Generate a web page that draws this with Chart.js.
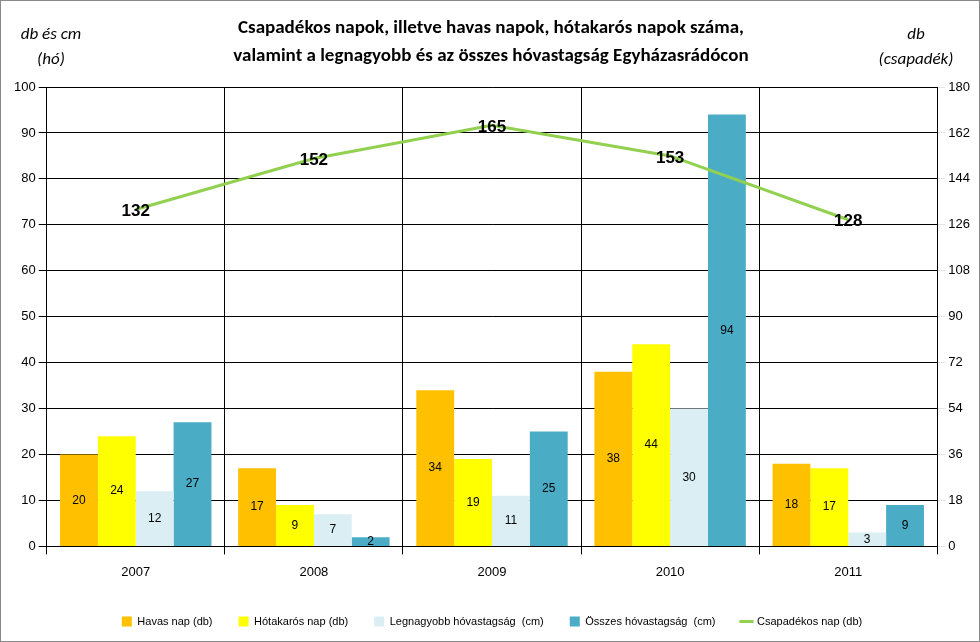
<!DOCTYPE html>
<html><head><meta charset="utf-8">
<script src="https://cdn.jsdelivr.net/npm/chart.js@4"></script>
<style>
body{margin:0;background:#fff;font-family:Calibri,"Liberation Sans",Arial,sans-serif;}
#wrap{position:absolute;left:0;top:0;width:978px;height:640px;border:1px solid #888;}
.t{position:absolute;font-style:italic;font-size:17px;text-align:center;color:#000;}
#title{position:absolute;left:140px;width:700px;top:12px;text-align:center;font-weight:bold;font-size:19px;line-height:28px;}
canvas{position:absolute;left:0;top:0;}
</style></head><body>
<div id="wrap">
<canvas id="c" width="978" height="640"></canvas>
<div id="title">Csapadékos napok, illetve havas napok, hótakarós napok száma,<br>valamint a legnagyobb és az összes hóvastagság Egyházasrádócon</div>
<div class="t" style="left:10px;top:20px;width:80px;line-height:25px">db és cm<br>(hó)</div>
<div class="t" style="left:870px;top:20px;width:90px;line-height:25px">db<br>(csapadék)</div>
</div>
<script>
const years = ['2007','2008','2009','2010','2011'];
const havas = [20, 17, 34, 38, 18];
const hotakaros = [24, 9, 19, 44, 17];
const legnagyobb = [12, 7, 11, 30, 3];
const osszes = [27, 2, 25, 94, 9];
const csapadek = [132, 152, 165, 153, 128];

const labelsPlugin = {
    id: 'labels',
    afterDatasetsDraw(chart) {
        const ctx = chart.ctx;
        ctx.save();
        ctx.textAlign = 'center';
        ctx.textBaseline = 'middle';
        chart.data.datasets.forEach((ds, i) => {
            const meta = chart.getDatasetMeta(i);
            meta.data.forEach((el, j) => {
                ctx.fillStyle = '#000';
                if (ds.type === 'line') {
                    ctx.font = 'bold 17px "Liberation Sans", Arial';
                    ctx.fillText(ds.data[j], el.x, el.y + 2);
                } else {
                    ctx.font = '12px "Liberation Sans", Arial';
                    ctx.fillText(ds.data[j], el.x, (el.y + el.base) / 2);
                }
            });
        });
        ctx.restore();
    }
};

new Chart(document.getElementById('c'), {
    data: {
        labels: years,
        datasets: [
            { type: 'line', label: 'Csapadékos nap (db)', data: csapadek, borderColor: '#92D050', backgroundColor: '#92D050', borderWidth: 3, pointRadius: 0, yAxisID: 'y1', order: 0, pointStyle: 'line' },
            { type: 'bar', label: 'Havas nap (db)', data: havas, backgroundColor: '#FFC000', yAxisID: 'y', order: 1, pointStyle: 'rect' },
            { type: 'bar', label: 'Hótakarós nap (db)', data: hotakaros, backgroundColor: '#FFFF00', yAxisID: 'y', order: 1, pointStyle: 'rect' },
            { type: 'bar', label: 'Legnagyobb hóvastagság  (cm)', data: legnagyobb, backgroundColor: '#DAEEF3', yAxisID: 'y', order: 1, pointStyle: 'rect' },
            { type: 'bar', label: 'Összes hóvastagság  (cm)', data: osszes, backgroundColor: '#4BACC6', yAxisID: 'y', order: 1, pointStyle: 'rect' }
        ]
    },
    options: {
        responsive: false,
        animation: false,
        layout: { padding: { left: 10, right: 6, top: 86, bottom: 4 } },
        datasets: { bar: { categoryPercentage: 0.85, barPercentage: 1 } },
        plugins: {
            legend: {
                position: 'bottom',
                labels: { usePointStyle: true, boxWidth: 10, boxHeight: 10, padding: 26, color: '#000', font: { size: 11, family: '"Liberation Sans", Arial' },
                    sort: (a, b) => (a.datasetIndex === 0 ? 1 : b.datasetIndex === 0 ? -1 : a.datasetIndex - b.datasetIndex) }
            },
            tooltip: { enabled: false }
        },
        scales: {
            x: { grid: { color: '#000', offset: true }, border: { color: '#000' }, ticks: { color: '#000', font: { size: 13 }, padding: 10 } },
            y: { min: 0, max: 100, ticks: { stepSize: 10, color: '#000', font: { size: 13 } }, grid: { color: '#000' }, border: { color: '#000' } },
            y1: { position: 'right', min: 0, max: 180, ticks: { stepSize: 18, color: '#000', font: { size: 13 } }, grid: { drawOnChartArea: false }, border: { color: '#000' } }
        }
    },
    plugins: [labelsPlugin]
});
</script>
</body></html>
